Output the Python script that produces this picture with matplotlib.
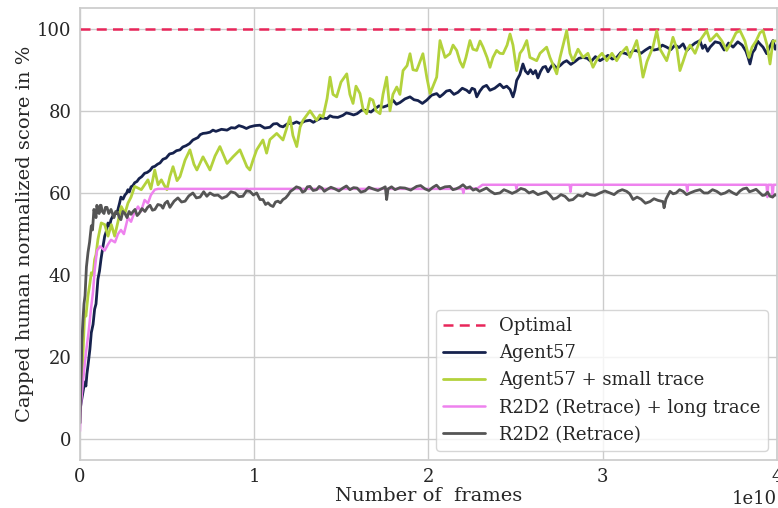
import matplotlib
matplotlib.use("Agg")
import matplotlib.pyplot as plt
import seaborn as sns
import numpy as np

# ---- data (x in units of 1e10 frames) ----
optimal_level = 100

agent57_x = [0.000, 0.007, 0.015, 0.027, 0.034, 0.040, 0.046, 0.057, 0.065, 0.075, 0.084, 0.092, 0.103, 0.112, 0.121,
             0.132, 0.142, 0.150, 0.161, 0.170, 0.178, 0.190, 0.199, 0.210, 0.218, 0.227, 0.235, 0.247, 0.258, 0.268,
             0.275, 0.284, 0.293, 0.304, 0.314, 0.327, 0.339, 0.355, 0.371, 0.386, 0.402, 0.416, 0.430, 0.445, 0.459,
             0.476, 0.494, 0.514, 0.534, 0.554, 0.574, 0.590, 0.608, 0.628, 0.648, 0.663, 0.677, 0.690, 0.706, 0.726,
             0.746, 0.763, 0.780, 0.812, 0.844, 0.868, 0.890, 0.912, 0.935, 0.955, 0.975, 1.004, 1.033, 1.060, 1.090,
             1.110, 1.131, 1.148, 1.165, 1.193, 1.222, 1.243, 1.263, 1.291, 1.320, 1.339, 1.358, 1.388, 1.418, 1.435,
             1.452, 1.480, 1.509, 1.529, 1.549, 1.570, 1.590, 1.618, 1.645, 1.670, 1.693, 1.716, 1.739, 1.767, 1.796,
             1.816, 1.836, 1.865, 1.894, 1.917, 1.940, 1.965, 1.990, 2.018, 2.047, 2.065, 2.083, 2.103, 2.123, 2.146,
             2.169, 2.194, 2.219, 2.235, 2.250, 2.265, 2.277, 2.295, 2.313, 2.333, 2.353, 2.380, 2.410, 2.430, 2.449,
             2.468, 2.485, 2.496, 2.506, 2.524, 2.542, 2.556, 2.571, 2.585, 2.600, 2.614, 2.628, 2.643, 2.657, 2.672,
             2.686, 2.700, 2.714, 2.735, 2.755, 2.775, 2.793, 2.817, 2.841, 2.864, 2.887, 2.910, 2.933, 2.958, 2.984,
             3.007, 3.030, 3.055, 3.080, 3.104, 3.128, 3.151, 3.174, 3.197, 3.220, 3.245, 3.271, 3.294, 3.317, 3.342,
             3.367, 3.391, 3.415, 3.438, 3.461, 3.481, 3.501, 3.530, 3.558, 3.573, 3.587, 3.602, 3.616, 3.645, 3.673,
             3.697, 3.722, 3.748, 3.775, 3.800, 3.822, 3.834, 3.845, 3.860, 3.874, 3.888, 3.902, 3.920, 3.941, 3.958,
             3.977, 3.990, 4.000]
agent57_y = [7, 9, 11, 14, 13, 16, 18, 22, 26, 28, 31.7, 33, 39, 41, 44,
             47, 49.5, 50.5, 52.7, 52, 53.5, 54.5, 55, 55, 56, 57.5, 59, 58.5, 59.5, 60,
             60.8, 60.3, 61.5, 61.8, 62.5, 62.8, 63.5, 64, 64.8, 65, 65.5, 66.3, 66.5, 67, 67.3,
             68.2, 68.5, 69.5, 69.7, 70.3, 70.5, 71.2, 71.5, 72, 72.9, 73.2, 73.5, 74.2, 74.5, 74.6,
             74.8, 75.3, 75, 75.5, 75.3, 75.9, 75.8, 76.4, 76.1, 75.7, 76.1, 76.4, 76.5, 75.8, 76,
             76.8, 76.9, 76.3, 76.1, 76.9, 76.9, 77.3, 76.9, 77.5, 77.7, 77.2, 77.7, 78.3, 78.1, 78.8,
             78.5, 78.4, 78.9, 79.5, 79.3, 79, 79.3, 80.2, 80.1, 79.7, 80.5, 81.2, 80.9, 81.3, 82.6,
             81.6, 82, 82.9, 83.4, 82.7, 82.5, 81.8, 82.6, 83.8, 84.2, 83.4, 84, 84.8, 85, 84,
             84.5, 85.5, 85, 84.4, 85.5, 85.2, 83.4, 84.8, 85.8, 86.2, 85, 85.5, 86.5, 85.6, 86,
             85.2, 83.4, 85, 87.4, 88.8, 91.4, 89.7, 89, 90, 89, 89.8, 88, 89.6, 90.6, 90.8,
             89.5, 90.5, 91.4, 90.4, 91, 91.8, 92.2, 91.3, 92, 92.8, 93, 92.8, 92, 93.2, 92.2,
             92.8, 93.5, 92.6, 93, 94.2, 94, 93.6, 94.7, 94.6, 94, 94.8, 95.5, 94.8, 95, 96,
             95.5, 94.9, 96, 95.4, 96.3, 94.6, 95.5, 96.5, 97.1, 95.2, 96, 94.5, 95.5, 96.8, 96.5,
             94.8, 96.5, 95.5, 96.8, 96, 94.5, 93, 91.4, 94.2, 95, 97, 96.3, 95.5, 93.9, 95.6,
             97.1, 95, 96]

small_trace_x = [0.000, 0.011, 0.017, 0.027, 0.034, 0.046, 0.057, 0.065, 0.075, 0.084, 0.092, 0.103, 0.122, 0.142,
                 0.161, 0.180, 0.199, 0.218, 0.237, 0.258, 0.275, 0.293, 0.314, 0.352, 0.390, 0.407, 0.429, 0.448,
                 0.467, 0.482, 0.499, 0.516, 0.534, 0.557, 0.574, 0.603, 0.631, 0.654, 0.671, 0.706, 0.746, 0.775,
                 0.803, 0.844, 0.878, 0.918, 0.958, 0.975, 0.993, 1.014, 1.050, 1.071, 1.090, 1.129, 1.165, 1.188,
                 1.205, 1.222, 1.244, 1.263, 1.280, 1.320, 1.358, 1.377, 1.395, 1.418, 1.435, 1.452, 1.473, 1.498,
                 1.531, 1.549, 1.567, 1.584, 1.607, 1.624, 1.645, 1.664, 1.681, 1.699, 1.722, 1.739, 1.760, 1.779,
                 1.796, 1.818, 1.836, 1.854, 1.877, 1.894, 1.911, 1.932, 1.951, 1.968, 1.991, 2.009, 2.026, 2.047,
                 2.066, 2.095, 2.123, 2.141, 2.162, 2.181, 2.198, 2.215, 2.238, 2.255, 2.277, 2.296, 2.313, 2.336,
                 2.353, 2.370, 2.391, 2.410, 2.428, 2.451, 2.468, 2.485, 2.506, 2.525, 2.542, 2.564, 2.582, 2.621,
                 2.640, 2.678, 2.697, 2.736, 2.755, 2.793, 2.812, 2.829, 2.858, 2.887, 2.915, 2.944, 2.973, 2.996,
                 3.023, 3.053, 3.080, 3.105, 3.137, 3.156, 3.195, 3.214, 3.231, 3.254, 3.288, 3.310, 3.329, 3.367,
                 3.386, 3.403, 3.426, 3.443, 3.461, 3.482, 3.501, 3.530, 3.558, 3.597, 3.616, 3.654, 3.684, 3.711,
                 3.742, 3.765, 3.788, 3.816, 3.839, 3.857, 3.880, 3.902, 3.920, 3.943, 3.960, 3.977, 4.000]
small_trace_y = [8, 14, 20.4, 31, 30, 35, 38, 40.6, 40, 43.8, 45, 48.7, 52.7, 52.3,
                 49.5, 52.3, 49.5, 53, 56.7, 55, 57.5, 59, 61.6, 60.8, 63.2, 61, 65.6, 62,
                 63.2, 62, 60.8, 64, 66.4, 63, 64, 68, 70.5, 67, 65.6, 68.8, 65.6, 69,
                 71.3, 67.2, 68.8, 70.5, 66.4, 65.6, 68, 70.5, 72.9, 69.7, 73, 74.5, 72.9, 76,
                 78.5, 74, 71.3, 76, 77.7, 80, 77.7, 79, 78.5, 83, 88.2, 84, 83.4, 87,
                 89, 84, 81.8, 86, 84.2, 80.5, 79.3, 83, 82.6, 80, 79.3, 84, 88.2, 80,
                 84, 85.8, 84, 89.8, 91, 93.9, 90, 89.8, 92, 93.9, 88, 84.2, 86, 88.2,
                 97.1, 93, 93.9, 96, 94.7, 92, 90.6, 93, 97.1, 95, 94.7, 97, 95.5, 93,
                 90.6, 93, 94.7, 94, 93.9, 96, 98.7, 96, 89.8, 94, 95, 97.1, 93, 92.2,
                 94, 95.5, 93, 89, 93, 99.5, 94, 92.2, 95, 93, 94, 90.6, 93, 94,
                 92.2, 94, 92.2, 94, 95.5, 93, 97.1, 93, 88.2, 92, 95.5, 99.5, 95, 92.2,
                 95, 97.9, 95, 89.8, 92, 94.7, 96, 94, 97.1, 99.5, 97, 98.7, 97, 94.7,
                 97, 99, 99.5, 97, 93, 95.5, 97, 99, 99.5, 96, 91.4, 97, 97]

long_trace_x = [0.000, 0.005, 0.017, 0.034, 0.049, 0.063, 0.075, 0.084, 0.092, 0.098, 0.115, 0.142, 0.161, 0.178,
                0.201, 0.218, 0.235, 0.252, 0.275, 0.293, 0.310, 0.333, 0.350, 0.371, 0.390, 0.407, 0.429, 0.448,
                0.800, 0.965, 0.970, 0.975, 1.500, 2.100, 2.195, 2.200, 2.205, 2.280, 2.310, 2.500, 2.505, 2.510,
                2.810, 2.815, 2.820, 3.480, 3.485, 3.490, 3.940, 3.945, 3.950, 3.970, 3.975, 3.980, 4.000]
long_trace_y = [2, 8.3, 14, 21, 26, 31.7, 36, 41, 44, 46, 47, 46, 47.5, 48.6,
                48, 50, 51, 50, 54, 53, 55, 56.7, 55.5, 58.3, 57.5, 59.5, 60.8, 61,
                61, 61, 60.5, 61, 61, 61, 61, 60, 61, 61.1, 62, 62, 61, 62,
                62, 60.3, 62, 62, 60.5, 62, 62, 59, 62, 62, 59, 62, 62]

r2d2_x = [0.000, 0.006, 0.011, 0.017, 0.023, 0.029, 0.037, 0.046, 0.055, 0.060, 0.065, 0.072, 0.080, 0.086, 0.092,
          0.097, 0.103, 0.110, 0.116, 0.121, 0.128, 0.138, 0.146, 0.155, 0.165, 0.178, 0.186, 0.195, 0.205, 0.218,
          0.226, 0.235, 0.246, 0.258, 0.270, 0.282, 0.293, 0.305, 0.316, 0.328, 0.339, 0.356, 0.373, 0.388, 0.402,
          0.416, 0.430, 0.447, 0.465, 0.476, 0.488, 0.502, 0.516, 0.540, 0.562, 0.583, 0.603, 0.625, 0.648, 0.668,
          0.689, 0.710, 0.728, 0.746, 0.770, 0.792, 0.815, 0.842, 0.866, 0.890, 0.912, 0.935, 0.955, 0.975, 0.995,
          1.014, 1.033, 1.050, 1.065, 1.079, 1.093, 1.108, 1.122, 1.136, 1.150, 1.165, 1.180, 1.194, 1.208, 1.222,
          1.242, 1.263, 1.277, 1.291, 1.305, 1.320, 1.338, 1.358, 1.373, 1.389, 1.402, 1.416, 1.440, 1.463, 1.486,
          1.509, 1.529, 1.549, 1.570, 1.590, 1.612, 1.636, 1.658, 1.681, 1.710, 1.739, 1.752, 1.760, 1.768, 1.788,
          1.808, 1.836, 1.865, 1.898, 1.932, 1.955, 1.980, 2.003, 2.026, 2.046, 2.066, 2.095, 2.123, 2.140, 2.158,
          2.178, 2.198, 2.218, 2.238, 2.256, 2.273, 2.293, 2.313, 2.333, 2.353, 2.380, 2.410, 2.433, 2.456, 2.480,
          2.506, 2.530, 2.554, 2.577, 2.600, 2.628, 2.657, 2.677, 2.697, 2.716, 2.736, 2.760, 2.783, 2.806, 2.829,
          2.858, 2.887, 2.907, 2.927, 2.955, 2.984, 3.013, 3.042, 3.065, 3.088, 3.112, 3.137, 3.155, 3.174, 3.197,
          3.220, 3.245, 3.271, 3.294, 3.317, 3.346, 3.352, 3.363, 3.375, 3.386, 3.404, 3.421, 3.441, 3.461, 3.481,
          3.501, 3.530, 3.558, 3.581, 3.604, 3.630, 3.654, 3.678, 3.702, 3.725, 3.748, 3.768, 3.788, 3.806, 3.826,
          3.842, 3.857, 3.880, 3.902, 3.917, 3.931, 3.946, 3.960, 3.975, 3.989, 4.000]
r2d2_y = [4, 15, 24, 29, 33, 35, 42, 45.5, 48, 50, 52, 51, 56, 55, 54,
          57, 56, 55, 57, 57, 55.5, 55, 56.5, 56.5, 55, 56, 55, 54, 55.5, 55,
          54, 53.5, 55.5, 55, 54, 55.5, 54.8, 55.5, 56, 54.5, 55, 56.2, 55.5, 56.5, 57,
          55.8, 56, 57.2, 57, 56.3, 57.5, 58, 56.5, 58, 58.8, 57.8, 58, 59.3, 60, 58.8,
          59, 60.3, 59.2, 60, 59.4, 59.5, 58.7, 59.2, 60.3, 60, 59.1, 59.2, 60.5, 60.4, 59.5,
          60, 58.4, 58.4, 57.2, 57.6, 57, 56.7, 57.8, 58, 57.6, 58.4, 58.8, 59.5, 60.4, 60.8,
          61.5, 61.2, 60.2, 60.5, 61.5, 61.6, 60.6, 60.8, 61.6, 61.2, 60.4, 60.8, 61.4, 61, 60.5,
          61.2, 61.7, 60.8, 61.3, 61.2, 60.2, 60.5, 61.4, 61, 60.6, 61.2, 61.5, 58.4, 61, 61.5,
          60.8, 61.3, 61.2, 60.7, 61.6, 61.8, 61, 60.6, 61.4, 61.9, 61, 61.5, 61.6, 60.8, 61,
          61.4, 62, 61.2, 61.5, 60.7, 61, 60.4, 60.8, 61.2, 60.5, 59.8, 60, 60.8, 60.4, 59.9,
          60.4, 61.1, 60.8, 60, 60.4, 59.6, 60, 60.3, 59.5, 58.5, 58.8, 59.6, 59.2, 58.2, 58.4,
          59.5, 59.2, 60, 59.6, 59.4, 60, 60.5, 60, 59.6, 60.4, 60.8, 60.4, 59.8, 58.4, 59,
          58.5, 57.5, 57.9, 58.6, 58.2, 57.9, 56.4, 58.5, 59.5, 60.4, 59.8, 60, 60.8, 60.4, 59.6,
          60, 60.5, 60.8, 60, 60, 60.8, 60.4, 59.7, 60, 60.6, 60, 59.6, 60.5, 61, 61.2,
          60.3, 60.5, 60.9, 60, 59.4, 59.5, 60.2, 59.2, 59, 59.6, 59.4]

SCALE = 1e10

# ---- style ----
sns.set_theme(style="whitegrid")
plt.rcParams['font.family'] = ['DejaVu Serif']

fig = plt.figure(figsize=(7.78, 5.08), dpi=100)
ax = fig.add_axes([0.1028, 0.0945, 0.8959, 0.8895])

ax.axhline(optimal_level, color='#e8265a', linestyle='--', linewidth=1.8, label='Optimal', dashes=(4, 2.5))
ax.plot(np.array(agent57_x) * SCALE, agent57_y, color='#16224d', linewidth=2, label='Agent57')
ax.plot(np.array(small_trace_x) * SCALE, small_trace_y, color='#b3d23c', linewidth=2, label='Agent57 + small trace')
ax.plot(np.array(long_trace_x) * SCALE, long_trace_y, color='#ee82ee', linewidth=1.8, label='R2D2 (Retrace) + long trace')
ax.plot(np.array(r2d2_x) * SCALE, r2d2_y, color='#555555', linewidth=2, label='R2D2 (Retrace)')

ax.set_xlim(0, 4 * SCALE)
ax.set_ylim(-5, 105)
ax.set_xticks([0, 1e10, 2e10, 3e10, 4e10])
ax.set_yticks([0, 20, 40, 60, 80, 100])
ax.tick_params(axis='both', labelsize=13, colors='0.15', length=0)
ax.tick_params(axis='x', pad=5.8)
ax.tick_params(axis='y', pad=6)
ax.xaxis.get_offset_text().set_fontsize(13)
ax.xaxis.get_offset_text().set_color('0.15')

ax.set_xlabel('Number of  frames', fontsize=14, color='0.15', labelpad=1)
ax.set_ylabel('Capped human normalized score in %', fontsize=14, color='0.15', labelpad=2)

leg = ax.legend(loc='lower right', fontsize=13, frameon=True, handlelength=2.3)

fig.savefig('out.png', dpi=100)
